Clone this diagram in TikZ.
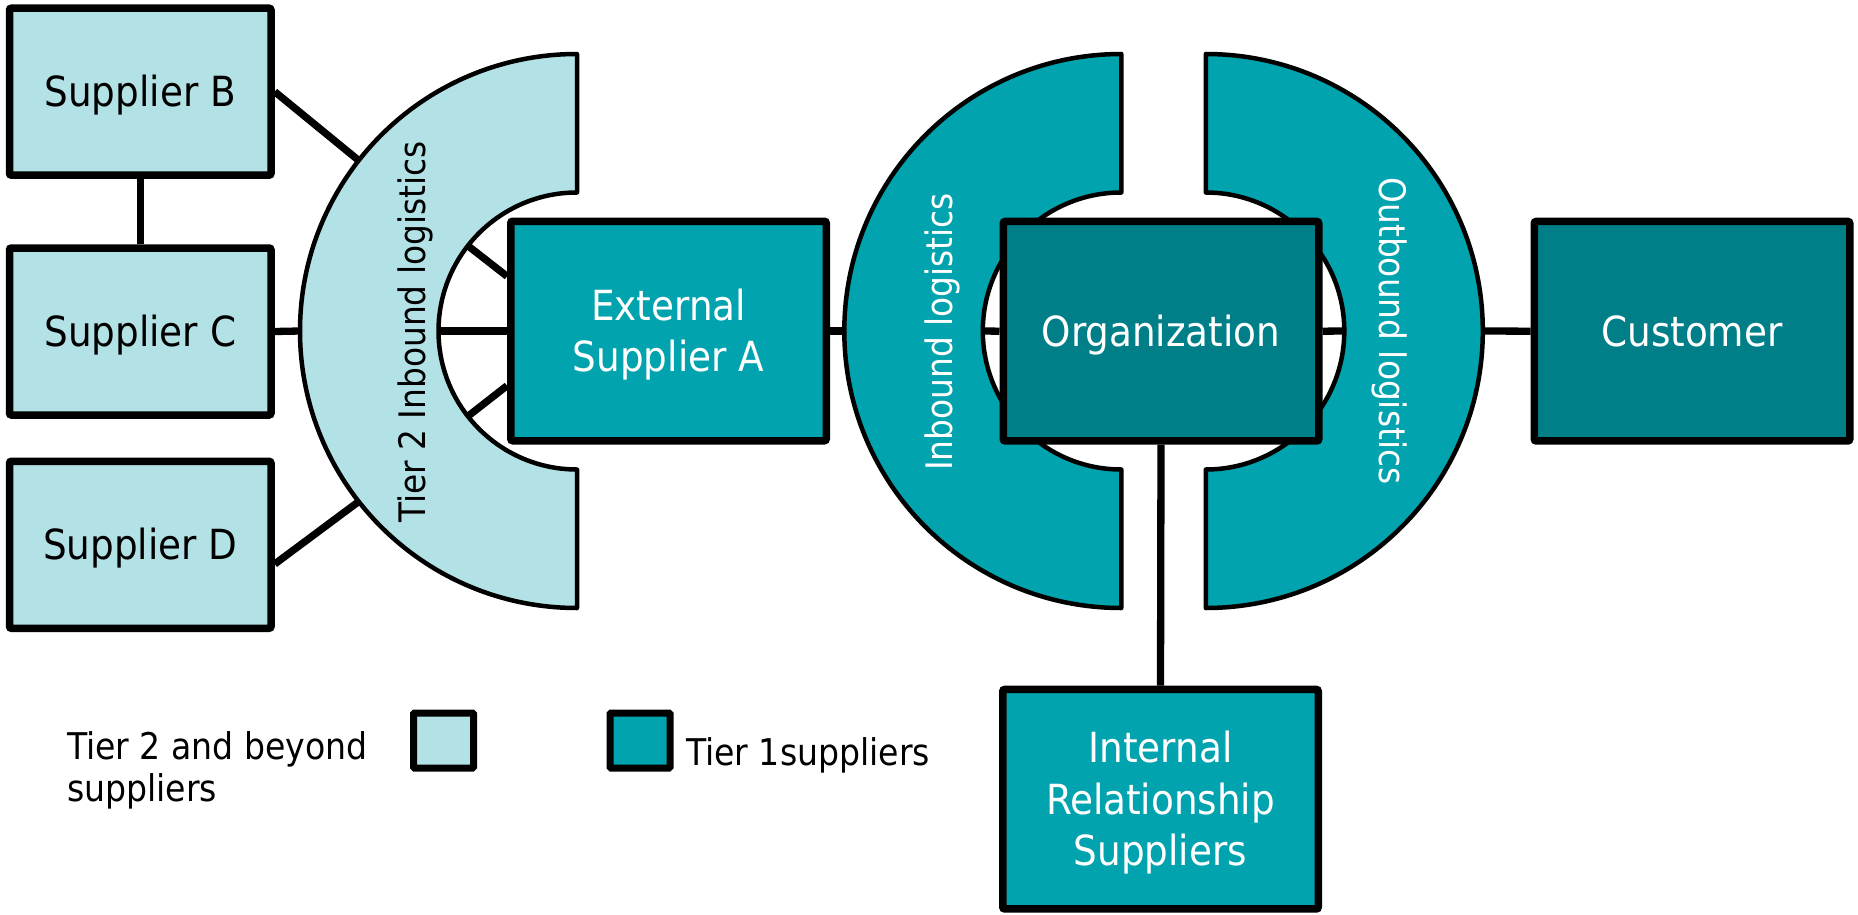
\documentclass[tikz,border=0pt]{standalone}
\usepackage{fontspec}
\setmainfont{DejaVu Sans Condensed}
\usetikzlibrary{calc}
\definecolor{lightc}{HTML}{B3E2E6}
\definecolor{midc}{HTML}{00A3AE}
\definecolor{darkc}{HTML}{007F89}
\pgfdeclarelayer{bg}
\pgfsetlayers{bg,main}
\newcommand{\mlines}[1]{\vtop{\baselineskip=51.5pt\lineskiplimit=-100pt\halign{\hfil##\hfil\cr#1\crcr}}}
\newcommand{\llines}[1]{\vtop{\baselineskip=42pt\lineskiplimit=-100pt\halign{##\hfil\cr#1\crcr}}}
\tikzset{
  boxbase/.style={draw, line width=7.5pt, rounded corners=2pt, inner sep=0pt,
    font=\fontsize{41.5}{51.5}\selectfont, text height=30.2pt, text depth=0pt},
  t2box/.style={boxbase, fill=lightc, text=black, minimum width=261.5pt, minimum height=167pt},
  t1box/.style={boxbase, fill=midc, text=white, minimum width=315.5pt, minimum height=219.5pt},
  orgbox/.style={t1box, fill=darkc},
  conn/.style={line width=7.3pt},
  ann/.style={draw=black, line width=4.5pt, line join=round},
  rotlbl/.style={font=\fontsize{36.5}{44}\selectfont, inner sep=0pt, anchor=base},
  legbox/.style={draw, line width=7pt, rounded corners=1pt, minimum width=60pt, minimum height=55pt, inner sep=0pt},
  legtxt/.style={font=\fontsize{36.8}{42}\selectfont, inner sep=0pt, text=black},
}
\begin{document}
\begin{tikzpicture}[x=1pt,y=-1pt]
\useasboundingbox (0,0) rectangle (1858,915);
% nodes
\node[t2box] (SupB) at (140.25,91.7) {Supplier B};
\node[t2box] (SupC) at (140.25,331.5) {Supplier C};
\node[t2box] (SupD) at (140.25,544.8) {Supplier D};
\node[t1box, text depth=51.5pt] (ExtA) at (668.5,331) {\mlines{External\cr Supplier A}};
\node[orgbox] (Org) at (1161,331.2) {Organization};
\node[orgbox] (Cust) at (1692,331.2) {Customer};
\node[t1box, text depth=103pt] (Int) at (1160.5,799.2) {\mlines{Internal\cr Relationship\cr Suppliers}};
% centers of the half rings
\coordinate (T2c) at (577,331);
\coordinate (IBc) at (1121.3,331);
\coordinate (OBc) at (1205.8,331);
\coordinate (t2ou) at ($(T2c)+(218:277)$);
\coordinate (t2om) at ($(T2c)+(180:277)$);
\coordinate (t2ol) at ($(T2c)+(142:277)$);
\coordinate (t2iu) at ($(T2c)+(218:138.5)$);
\coordinate (t2im) at ($(T2c)+(180:138.5)$);
\coordinate (t2il) at ($(T2c)+(142:138.5)$);
\coordinate (ibo) at ($(IBc)+(180:277)$);
\coordinate (ibi) at ($(IBc)+(180:138.5)$);
\coordinate (obo) at ($(OBc)+(0:277)$);
\coordinate (obi) at ($(OBc)+(0:138.5)$);
\begin{pgfonlayer}{bg}
  \fill[white] (0,0) rectangle (1858,915);
  % Tier 2 half ring
  \path[ann, fill=lightc] ($(T2c)+(0,-277)$) arc[start angle=270, end angle=90, radius=277]
     -- ($(T2c)+(0,138.5)$) arc[start angle=90, end angle=270, radius=138.5] -- cycle;
  % Inbound half ring
  \path[ann, fill=midc] ($(IBc)+(0,-277)$) arc[start angle=270, end angle=90, radius=277]
     -- ($(IBc)+(0,138.5)$) arc[start angle=90, end angle=270, radius=138.5] -- cycle;
  % Outbound half ring
  \path[ann, fill=midc] ($(OBc)+(0,-277)$) arc[start angle=270, end angle=450, radius=277]
     -- ($(OBc)+(0,138.5)$) arc[start angle=90, end angle=-90, radius=138.5] -- cycle;
  % connectors
  \draw[conn] (SupB.south) -- (SupC.north);
  \draw[conn] (SupB.east) -- (t2ou);
  \draw[conn] (SupC.east) -- (t2om);
  \draw[conn] (t2ol) -- ($(SupD.north east)!0.61!(SupD.south east)$);
  \draw[conn] (t2iu) -- (intersection of T2c--t2iu and ExtA.north west--ExtA.south west);
  \draw[conn] (t2im) -- (ExtA.west);
  \draw[conn] (t2il) -- (intersection of T2c--t2il and ExtA.north west--ExtA.south west);
  \draw[conn] (ExtA.east) -- (ibo);
  \draw[conn] (ibi) -- (Org.west);
  \draw[conn] (Org.east) -- (obi);
  \draw[conn] (obo) -- (Cust.west);
  \draw[conn] (Org.south) -- (Int.north);
\end{pgfonlayer}
% rotated labels
\node[rotlbl, rotate=90, text=black] (t2lbl) at (425,332) {Tier 2 Inbound logistics};
\node[rotlbl, rotate=90, text=white] (iblbl) at (952.6,332) {Inbound logistics};
\node[rotlbl, rotate=-90, text=white] (oblbl) at (1379,331) {Outbound logistics};
% legend
\node[legtxt, anchor=base west] (leg1) at (67,759) {\llines{Tier 2 and beyond\cr suppliers}};
\node[legbox, fill=lightc] (legL) at (443.5,740.5) {};
\node[legbox, fill=midc] (legD) at (640,740.5) {};
\node[legtxt, anchor=base west] (leg2) at (686,765) {Tier 1suppliers};
\end{tikzpicture}
\end{document}
